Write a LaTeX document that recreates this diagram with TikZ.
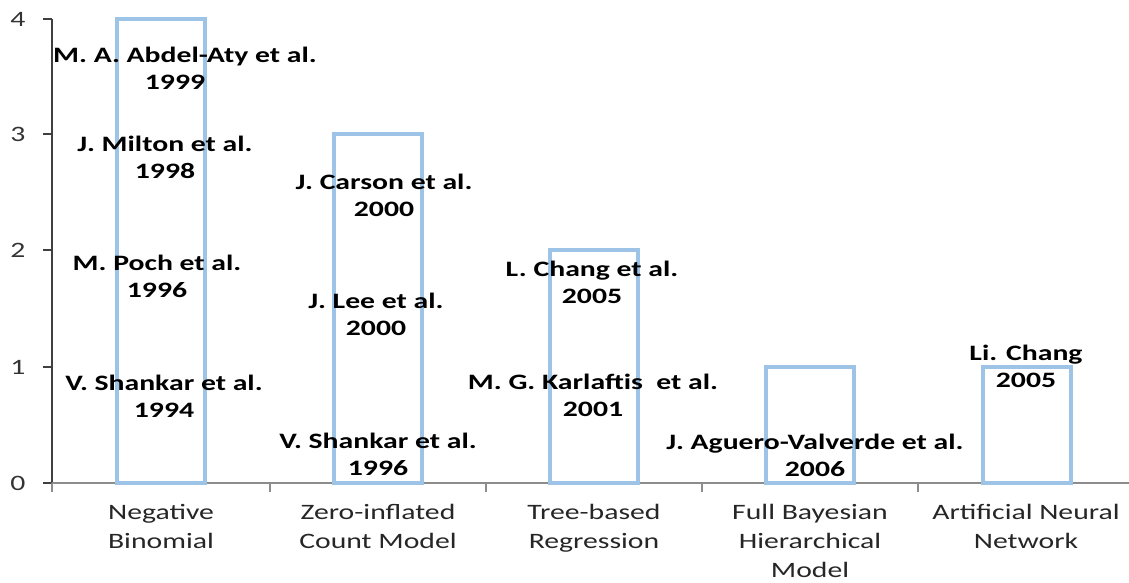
\documentclass[tikz,border=0pt]{standalone}
\usepackage{fontspec}
\setmainfont{Carlito}[FakeStretch=1.35]
\definecolor{barblue}{HTML}{9DC3E6}
\definecolor{yaxis}{HTML}{404040}
\definecolor{xaxis}{HTML}{8C8C8C}
\tikzset{
  bar/.style={draw=barblue, line width=4pt},
  ref/.style={align=center, inner sep=0pt, font=\bfseries\fontsize{22}{27}\selectfont},
  cat/.style={align=center, inner sep=0pt, anchor=north, text=black!85, font=\fontsize{22}{29}\selectfont},
  ylab/.style={inner sep=0pt, text=black!80, font=\fontsize{22}{26}\selectfont}
}
\begin{document}
\begin{tikzpicture}[x=1pt,y=1pt]
\useasboundingbox (0,0) rectangle (1129,582);

% axes
\coordinate (O) at (52,99);
\coordinate (ytop) at (52,563);
\coordinate (xend) at (1129,99);
\draw[yaxis, line width=1.5pt] (ytop) -- (O);
\draw[xaxis, line width=1.5pt] (O) -- (xend);

% y ticks and labels
\node[ylab] (y0) at (18,99) {0};
\node[ylab] (y1) at (18,215) {1};
\node[ylab] (y2) at (18,332) {2};
\node[ylab] (y3) at (18,448) {3};
\node[ylab] (y4) at (18,563) {4};
\draw[yaxis, line width=1.5pt] (43,99) -- (O);
\draw[yaxis, line width=1.5pt] (43,215) -- (52,215);
\draw[yaxis, line width=1.5pt] (43,332) -- (52,332);
\draw[yaxis, line width=1.5pt] (43,448) -- (52,448);
\draw[yaxis, line width=1.5pt] (43,563) -- (ytop);

% x ticks
\draw[xaxis, line width=1.5pt] (52,99) -- (52,90);
\draw[xaxis, line width=1.5pt] (270,99) -- (270,90);
\draw[xaxis, line width=1.5pt] (486,99) -- (486,90);
\draw[xaxis, line width=1.5pt] (702,99) -- (702,90);
\draw[xaxis, line width=1.5pt] (918,99) -- (918,90);

% bars
\draw[bar] (117,99) rectangle (205,563);
\draw[bar] (334,99) rectangle (422,448);
\draw[bar] (550,99) rectangle (638,332);
\draw[bar] (766,99) rectangle (854,215);
\draw[bar] (983,99) rectangle (1071,215);

% references
\node[ref] (abdelaty) at (185,514) {M. A. Abdel-Aty et al.\\1999\hspace*{20pt}};
\node[ref] (milton) at (165,425) {J. Milton et al.\\1998};
\node[ref] (poch) at (157,306) {M. Poch et al.\\1996};
\node[ref] (shankara) at (164,186) {V. Shankar et al.\\1994};
\node[ref] (carson) at (384,387) {J. Carson et al.\\2000};
\node[ref] (lee) at (376,268) {J. Lee et al.\\2000};
\node[ref] (shankarb) at (378,128) {V. Shankar et al.\\1996};
\node[ref] (lchang) at (592,300) {L. Chang et al.\\2005};
\node[ref] (karlaftis) at (593,187) {M. G. Karlaftis\ \ et al.\\2001};
\node[ref] (aguero) at (815,127) {J. Aguero-Valverde et al.\\2006};
\node[ref] (lichang) at (1026,216) {Li. Chang\\2005};

% categories
\node[cat] (negbin) at (161,78) {Negative\\Binomial};
\node[cat] (zeroinf) at (378,78) {Zero-inflated\\Count Model};
\node[cat] (tree) at (594,78) {Tree-based\\Regression};
\node[cat] (bayes) at (810,78) {Full Bayesian\\Hierarchical\\Model};
\node[cat] (ann) at (1026,78) {Artificial Neural\\Network};
\end{tikzpicture}
\end{document}
